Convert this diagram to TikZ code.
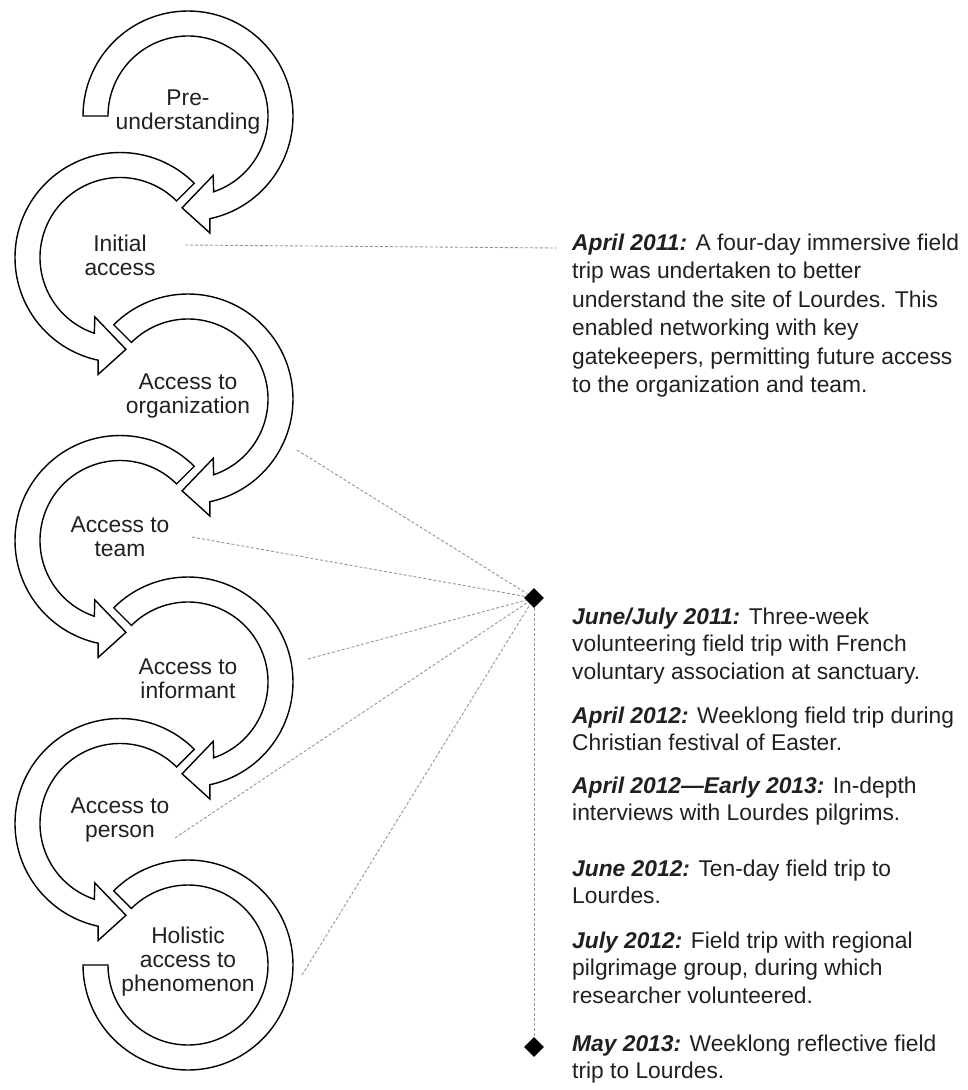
\documentclass[tikz,border=0pt]{standalone}
\usepackage{fontspec}
\setmainfont{Liberation Sans}
\usetikzlibrary{shapes.geometric}

\definecolor{inkgray}{HTML}{231F20}
\definecolor{leadgray}{HTML}{959595}

\newcommand{\when}[1]{{\bfseries\itshape #1}}

\tikzset{
  band/.style={draw=black, fill=white, line width=1.4pt, line join=miter},
  stage/.style={align=center, text=inkgray, inner sep=0pt,
                font=\fontsize{22.8}{24}\selectfont},
  note/.style={align=left, anchor=base west, text=inkgray, inner sep=0pt,
               font=\fontsize{22.8}{27.5}\selectfont},
  leader/.style={draw=leadgray, line width=0.9pt, dash pattern=on 3pt off 2pt},
  marker/.style={diamond, fill=black, minimum size=20pt, inner sep=0pt}
}

\begin{document}
\begin{tikzpicture}[x=1pt, y=1pt]
\useasboundingbox (0,0) rectangle (968,-1090);

% stage 1
\begin{scope}[shift={(188,-116)}]
\draw[band] (180:105) arc[start angle=180, end angle=-78, radius=105]
  -- (-79.4:119) -- (-93.7:92) -- (-67:64.5) -- (-71.3:80)
  arc[start angle=-71.3, end angle=180, radius=80] -- cycle;
\end{scope}
% stage 2
\begin{scope}[shift={(120,-257.5)}]
\draw[band] (45:105) arc[start angle=45, end angle=258, radius=105]
  -- (259.4:119) -- (273.7:92) -- (247:64.5) -- (251.3:80)
  arc[start angle=251.3, end angle=45, radius=80] -- cycle;
\end{scope}
% stage 3
\begin{scope}[shift={(188,-399)}]
\draw[band] (135:105) arc[start angle=135, end angle=-78, radius=105]
  -- (-79.4:119) -- (-93.7:92) -- (-67:64.5) -- (-71.3:80)
  arc[start angle=-71.3, end angle=135, radius=80] -- cycle;
\end{scope}
% stage 4
\begin{scope}[shift={(120,-540.5)}]
\draw[band] (45:105) arc[start angle=45, end angle=258, radius=105]
  -- (259.4:119) -- (273.7:92) -- (247:64.5) -- (251.3:80)
  arc[start angle=251.3, end angle=45, radius=80] -- cycle;
\end{scope}
% stage 5
\begin{scope}[shift={(188,-682)}]
\draw[band] (135:105) arc[start angle=135, end angle=-78, radius=105]
  -- (-79.4:119) -- (-93.7:92) -- (-67:64.5) -- (-71.3:80)
  arc[start angle=-71.3, end angle=135, radius=80] -- cycle;
\end{scope}
% stage 6
\begin{scope}[shift={(120,-823.5)}]
\draw[band] (45:105) arc[start angle=45, end angle=258, radius=105]
  -- (259.4:119) -- (273.7:92) -- (247:64.5) -- (251.3:80)
  arc[start angle=251.3, end angle=45, radius=80] -- cycle;
\end{scope}
% stage 7, closed ring
\begin{scope}[shift={(188,-965)}]
\draw[band] (135:105) arc[start angle=135, end angle=-180, radius=105]
  -- (180:80) arc[start angle=-180, end angle=135, radius=80] -- cycle;
\end{scope}

% stage labels
\node[stage] (pre) at (188,-112) {Pre-\\understanding};
\node[stage] (initial) at (120,-255) {Initial\\access};
\node[stage] (org) at (188,-396) {Access to\\organization};
\node[stage] (team) at (120,-537) {Access to\\team};
\node[stage] (informant) at (188,-679) {Access to\\informant};
\node[stage] (person) at (120,-820) {Access to\\person};
\node[stage] (holistic) at (188,-962) {Holistic\\access to\\phenomenon};

% timeline notes (base = last line)
\node[note, font=\fontsize{22.8}{28.5}\selectfont] (note1) at (572,-392.5)
  {\when{April 2011:} A four-day immersive field\\trip was undertaken to better\\understand the site of Lourdes. This\\enabled networking with key\\gatekeepers, permitting future access\\to the organization and team.};
\node[note] (note2) at (572,-679)
  {\when{June/July 2011:} Three-week\\volunteering field trip with French\\voluntary association at sanctuary.};
\node[note] (note3) at (572,-750.5)
  {\when{April 2012:} Weeklong field trip during\\Christian festival of Easter.};
\node[note] (note4) at (572,-820.5)
  {\when{April 2012—Early 2013:} In-depth\\interviews with Lourdes pilgrims.};
\node[note] (note5) at (572,-903.5)
  {\when{June 2012:} Ten-day field trip to\\Lourdes.};
\node[note] (note6) at (572,-1003)
  {\when{July 2012:} Field trip with regional\\pilgrimage group, during which\\researcher volunteered.};
\node[note] (note7) at (572,-1078.5)
  {\when{May 2013:} Weeklong reflective field\\trip to Lourdes.};

% diamonds
\node[marker] (hub) at (534,-598) {};
\node[marker] (endmark) at (534,-1047) {};

% leader lines
\coordinate (c-init) at (185,-245);
\coordinate (c-init-end) at (557,-248);
\coordinate (c-org) at (297,-450);
\coordinate (c-team) at (192,-537);
\coordinate (c-inf) at (308,-659);
\coordinate (c-per) at (175,-838);
\coordinate (c-hol) at (302,-975);

\draw[leader] (c-init) -- (c-init-end);
\draw[leader] (c-org) -- (hub);
\draw[leader] (c-team) -- (hub);
\draw[leader] (c-inf) -- (hub);
\draw[leader] (c-per) -- (hub);
\draw[leader] (c-hol) -- (hub);
\draw[leader] (hub) -- (endmark);
\end{tikzpicture}
\end{document}
